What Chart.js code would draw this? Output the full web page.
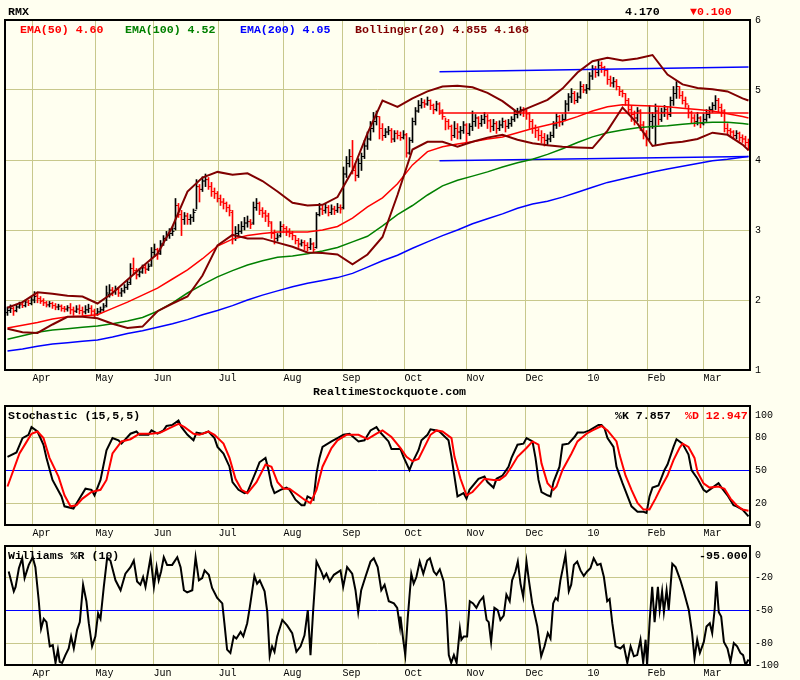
<!DOCTYPE html>
<html>
<head>
<meta charset="utf-8">
<script src="https://cdn.jsdelivr.net/npm/chart.js@4.4.1/dist/chart.umd.min.js"></script>
<style>
body { margin:0; background:#fffff0; width:800px; height:680px; position:relative; overflow:hidden; font-family:"Liberation Mono", monospace; }
.box { position:absolute; left:0; width:800px; }
.lbl { position:absolute; font-weight:bold; font-size:11.6px; line-height:12px; white-space:pre; }
</style>
</head>
<body>
<div class="box" style="top:0;height:400px"><canvas id="priceChart"></canvas></div>
<div class="box" style="top:400px;height:140px"><canvas id="stochChart"></canvas></div>
<div class="box" style="top:540px;height:140px"><canvas id="willChart"></canvas></div>

<div class="lbl" style="left:8px;top:6px">RMX</div>
<div class="lbl" style="left:625px;top:6px">4.170</div>
<div class="lbl" style="left:690px;top:6px;color:#ff0000">▼0.100</div>
<div class="lbl" style="left:20px;top:24px;color:#ff0000">EMA(50) 4.60</div>
<div class="lbl" style="left:125px;top:24px;color:#008000">EMA(100) 4.52</div>
<div class="lbl" style="left:240px;top:24px;color:#0000ff">EMA(200) 4.05</div>
<div class="lbl" style="left:355px;top:24px;color:#800000">Bollinger(20) 4.855 4.168</div>
<div class="lbl" style="left:313px;top:386px">RealtimeStockquote.com</div>
<div class="lbl" style="left:8px;top:410px">Stochastic (15,5,5)</div>
<div class="lbl" style="left:615px;top:410px">%K 7.857</div>
<div class="lbl" style="left:685px;top:410px;color:#ff0000">%D 12.947</div>
<div class="lbl" style="left:8px;top:550px">Williams %R (10)</div>
<div class="lbl" style="left:699px;top:550px">-95.000</div>

<script>
'use strict';

// month grid lines, as trading-day positions
let monthDays = [8.3, 29.3, 48.7, 70.3, 92, 111.7, 132.3, 153, 172.7, 193.3, 213.3, 232];
let monthLabels = ['Apr','May','Jun','Jul','Aug','Sep','Oct','Nov','Dec','10','Feb','Mar'];

// daily price bars
let openArr = [1.82,1.85,1.88,1.85,1.90,1.94,1.92,1.97,1.95,2.00,
 2.06,2.02,1.99,1.96,1.93,1.95,1.92,1.90,1.91,1.88,1.87,
 1.89,1.86,1.84,1.87,1.85,1.83,1.86,1.88,1.84,1.80,1.83,1.86,
 1.92,2.08,2.14,2.12,2.15,2.10,2.13,2.18,
 2.25,2.45,2.42,2.36,2.40,2.46,2.44,
 2.50,2.68,2.72,2.66,2.80,2.88,2.92,2.95,
 3.02,3.35,3.22,3.15,
 3.20,3.15,3.18,
 3.28,3.62,3.58,3.70,
 3.72,3.62,3.55,
 3.52,3.45,3.40,3.38,3.32,
 3.25,2.92,2.95,
 2.98,3.05,3.10,3.12,
 3.10,3.32,
 3.38,3.28,3.24,3.20,
 3.10,2.95,2.88,
 2.92,3.05,
 3.02,2.98,2.95,
 2.92,2.85,2.80,2.82,
 2.78,2.75,2.80,
 2.75,
 3.22,3.30,3.28,3.32,3.25,3.30,3.28,3.32,
 3.32,3.80,3.95,
 4.05,3.85,
 3.78,3.95,
 4.05,4.20,
 4.30,4.45,4.55,
 4.62,4.45,4.35,4.40,
 4.42,4.30,4.38,4.35,4.32,
 4.36,4.10,
 4.28,4.55,
 4.70,4.78,4.82,4.80,
 4.85,4.78,4.72,4.80,4.70,
 4.62,4.55,
 4.48,4.35,4.45,
 4.40,4.42,4.50,4.38,
 4.48,4.55,4.60,4.52,4.58,4.62,
 4.56,4.48,4.52,4.45,4.50,4.55,4.48,4.52,
 4.58,4.65,4.68,4.72,4.70,
 4.66,4.55,4.45,
 4.42,4.35,4.32,4.28,4.30,
 4.35,4.50,4.62,4.55,
 4.58,4.80,4.90,4.95,4.85,
 4.90,5.05,5.00,
 5.02,5.20,5.30,5.25,5.35,5.32,
 5.28,5.15,5.10,5.12,
 5.05,4.98,
 4.95,4.85,
 4.72,4.65,4.60,
 4.70,4.50,4.38,
 4.30,4.55,
 4.62,4.70,
 4.58,4.68,4.72,
 4.65,4.85,4.95,
 5.05,4.92,4.85,
 4.80,4.68,
 4.60,4.55,4.60,4.52,4.58,
 4.65,4.72,4.78,
 4.85,4.75,
 4.70,4.45,
 4.42,4.40,4.35,4.38,4.32,4.30,
 4.25];
let highArr = [1.90,1.93,1.90,1.94,1.97,1.97,2.00,2.00,2.05,2.12,
 2.10,2.05,2.02,1.98,1.98,1.97,1.95,1.94,1.93,1.91,1.92,
 1.95,1.90,1.92,1.93,1.90,1.92,1.94,1.92,1.87,1.88,1.90,1.95,
 2.20,2.22,2.18,2.20,2.18,2.17,2.22,2.28,
 2.52,2.60,2.45,2.45,2.50,2.50,2.52,
 2.75,2.80,2.74,2.85,2.92,2.98,3.02,3.05,
 3.45,3.38,3.28,3.25,
 3.24,3.22,3.30,
 3.72,3.65,3.76,3.80,
 3.75,3.68,3.60,
 3.55,3.50,3.45,3.40,3.36,
 3.28,3.05,3.08,
 3.12,3.18,3.20,3.15,
 3.40,3.45,
 3.40,3.32,3.28,3.24,
 3.12,3.00,2.95,
 3.12,3.08,
 3.05,3.02,2.98,
 2.92,2.88,2.86,2.85,
 2.82,2.88,2.82,
 3.25,
 3.38,3.35,3.38,3.35,3.36,3.34,3.38,3.36,
 3.90,4.05,4.15,
 4.28,3.95,
 4.02,4.10,
 4.28,4.40,
 4.55,4.68,4.70,
 4.62,4.52,4.45,4.48,
 4.45,4.42,4.42,4.40,4.42,
 4.38,4.32,
 4.60,4.75,
 4.85,4.88,4.86,4.90,
 4.86,4.80,4.84,4.82,4.72,
 4.60,4.58,
 4.50,4.55,4.52,
 4.48,4.55,4.52,4.52,
 4.70,4.65,4.62,4.64,4.68,4.65,
 4.58,4.58,4.55,4.56,4.60,4.57,4.58,4.62,
 4.70,4.74,4.76,4.75,4.72,
 4.68,4.58,4.50,
 4.45,4.42,4.38,4.36,4.40,
 4.55,4.66,4.64,4.65,
 4.85,4.95,5.02,4.98,4.96,
 5.12,5.08,5.08,
 5.25,5.35,5.34,5.42,5.40,5.34,
 5.30,5.20,5.18,5.15,
 5.05,5.00,
 4.95,4.88,
 4.78,4.70,4.75,
 4.72,4.55,4.42,
 4.78,4.68,
 4.80,4.75,
 4.74,4.78,4.75,
 4.90,5.05,5.12,
 5.05,4.98,4.90,
 4.78,4.70,
 4.65,4.68,4.62,4.66,4.72,
 4.76,4.82,4.92,
 4.88,4.80,
 4.72,4.52,
 4.45,4.42,4.42,4.40,4.36,4.34,
 4.30];
let lowArr = [1.78,1.82,1.78,1.83,1.88,1.89,1.90,1.92,1.93,1.96,
 1.96,1.95,1.92,1.90,1.90,1.88,1.86,1.86,1.84,1.83,1.84,
 1.80,1.78,1.82,1.80,1.78,1.80,1.82,1.79,1.76,1.78,1.81,1.84,
 1.90,2.04,2.06,2.08,2.05,2.05,2.10,2.15,
 2.22,2.36,2.30,2.33,2.38,2.38,2.42,
 2.48,2.62,2.58,2.65,2.78,2.85,2.88,2.92,
 3.00,3.18,2.92,3.08,
 3.08,3.08,3.12,
 3.30,3.40,3.55,3.62,
 3.58,3.48,3.45,
 3.40,3.35,3.30,3.26,3.20,
 2.80,2.85,2.90,
 2.95,3.00,3.04,3.02,
 3.08,3.28,
 3.22,3.18,3.12,3.05,
 2.88,2.80,2.84,
 2.90,2.96,
 2.92,2.90,2.86,
 2.80,2.75,2.77,2.72,
 2.70,2.72,2.68,
 2.74,
 3.20,3.22,3.24,3.20,3.22,3.22,3.25,3.24,
 3.30,3.75,3.90,
 3.80,3.70,
 3.75,3.85,
 4.02,4.15,
 4.28,4.40,4.50,
 4.30,4.28,4.32,4.36,
 4.25,4.26,4.30,4.28,4.30,
 4.04,4.08,
 4.25,4.50,
 4.68,4.74,4.75,4.78,
 4.72,4.66,4.70,4.65,4.58,
 4.43,4.44,
 4.28,4.32,4.30,
 4.30,4.38,4.25,4.35,
 4.42,4.48,4.45,4.48,4.52,4.45,
 4.40,4.42,4.38,4.42,4.46,4.40,4.45,4.48,
 4.55,4.60,4.64,4.62,4.58,
 4.45,4.38,4.32,
 4.28,4.24,4.20,4.22,4.26,
 4.32,4.45,4.48,4.50,
 4.56,4.70,4.82,4.80,4.82,
 4.88,4.96,4.95,
 5.00,5.15,5.18,5.20,5.25,5.20,
 5.08,5.05,5.04,5.00,
 4.92,4.90,
 4.78,4.66,
 4.55,4.50,4.55,
 4.42,4.30,4.20,
 4.28,4.45,
 4.22,4.50,
 4.55,4.62,4.58,
 4.62,4.78,4.88,
 4.88,4.80,4.75,
 4.60,4.52,
 4.48,4.50,4.46,4.50,4.55,
 4.60,4.68,4.72,
 4.68,4.62,
 4.40,4.36,
 4.34,4.30,4.30,4.27,4.25,4.20,
 4.14];
let closeArr = [1.85,1.88,1.84,1.90,1.93,1.92,1.97,1.95,2.00,2.05,
 2.02,1.98,1.96,1.93,1.95,1.92,1.90,1.91,1.88,1.87,1.89,
 1.86,1.84,1.87,1.85,1.83,1.86,1.88,1.84,1.80,1.83,1.86,1.90,
 2.10,2.14,2.12,2.15,2.10,2.13,2.18,2.22,
 2.45,2.42,2.36,2.40,2.46,2.44,2.48,
 2.68,2.72,2.66,2.80,2.88,2.92,2.95,2.98,
 3.35,3.22,3.15,3.20,
 3.15,3.18,3.25,
 3.62,3.58,3.70,3.72,
 3.62,3.55,3.52,
 3.45,3.40,3.38,3.32,3.28,
 2.92,2.95,2.98,
 3.05,3.10,3.12,3.08,
 3.32,3.38,
 3.28,3.24,3.20,3.12,
 2.95,2.88,2.90,
 3.05,3.02,
 2.98,2.95,2.92,
 2.85,2.80,2.82,2.78,
 2.75,2.80,2.72,
 3.22,
 3.30,3.28,3.32,3.25,3.30,3.28,3.32,3.30,
 3.80,3.95,4.05,
 3.85,3.78,
 3.95,4.05,
 4.20,4.30,
 4.45,4.55,4.62,
 4.45,4.35,4.40,4.42,
 4.30,4.38,4.35,4.32,4.36,
 4.10,4.28,
 4.55,4.70,
 4.78,4.82,4.80,4.85,
 4.78,4.72,4.80,4.70,4.62,
 4.55,4.48,
 4.35,4.45,4.40,
 4.42,4.50,4.38,4.48,
 4.55,4.60,4.52,4.58,4.62,4.56,
 4.48,4.52,4.45,4.50,4.55,4.48,4.52,4.58,
 4.65,4.68,4.72,4.70,4.66,
 4.55,4.45,4.42,
 4.35,4.32,4.28,4.30,4.35,
 4.50,4.62,4.55,4.58,
 4.80,4.90,4.95,4.85,4.90,
 5.05,5.00,5.02,
 5.20,5.30,5.25,5.35,5.32,5.28,
 5.15,5.10,5.12,5.05,
 4.98,4.95,
 4.85,4.72,
 4.65,4.60,4.70,
 4.50,4.38,4.30,
 4.55,4.62,
 4.70,4.58,
 4.68,4.72,4.65,
 4.85,4.95,5.05,
 4.92,4.85,4.80,
 4.68,4.60,
 4.55,4.60,4.52,4.58,4.65,
 4.72,4.78,4.85,
 4.75,4.70,
 4.45,4.42,
 4.40,4.35,4.38,4.32,4.30,4.25,
 4.17];

// overlay lines, read every 5 days
let lineDays = [0,5,10,15,20,25,30,35,40,45,50,55,60,65,70,75,80,85,90,95,100,105,110,115,120,125,
 130,135,140,145,150,155,160,165,170,175,180,185,190,195,200,205,210,215,220,225,230,235,240,245,247];
let ema50 = [1.60,1.64,1.68,1.73,1.76,1.77,1.79,1.88,1.97,2.07,2.17,2.30,2.43,2.59,2.77,2.87,2.92,2.95,2.97,2.97,
 2.97,3.00,3.05,3.17,3.33,3.46,3.66,3.93,4.12,4.19,4.23,4.26,4.30,4.33,4.39,4.45,4.50,4.55,4.62,4.70,
 4.76,4.79,4.78,4.77,4.76,4.74,4.72,4.70,4.66,4.62,4.60];
let ema100 = [1.44,1.49,1.54,1.57,1.59,1.61,1.63,1.66,1.70,1.75,1.84,1.96,2.10,2.22,2.33,2.42,2.50,2.56,2.61,2.63,
 2.66,2.70,2.75,2.83,2.91,3.06,3.22,3.35,3.50,3.63,3.71,3.77,3.83,3.90,3.96,4.01,4.08,4.16,4.25,4.33,
 4.39,4.43,4.46,4.48,4.49,4.51,4.53,4.54,4.54,4.52,4.51];
let ema200 = [1.27,1.30,1.34,1.37,1.39,1.41,1.43,1.47,1.52,1.56,1.61,1.66,1.72,1.79,1.85,1.92,2.00,2.07,2.13,2.19,
 2.24,2.28,2.32,2.38,2.47,2.56,2.64,2.74,2.83,2.92,3.00,3.09,3.16,3.23,3.31,3.37,3.41,3.47,3.54,3.61,
 3.68,3.73,3.78,3.83,3.87,3.91,3.95,3.99,4.01,4.04,4.05];
let bbUpper = [1.89,1.97,2.11,2.09,2.06,2.05,1.95,2.10,2.29,2.48,2.66,3.05,3.55,3.75,3.83,3.79,3.81,3.70,3.55,3.39,
 3.35,3.36,3.47,3.85,4.38,4.85,4.76,4.88,4.98,5.05,5.06,5.04,4.96,4.84,4.68,4.77,4.86,5.02,5.25,5.41,
 5.46,5.42,5.45,5.50,5.22,5.08,5.03,5.01,4.98,4.88,4.85];
let bbLower = [1.59,1.54,1.53,1.65,1.76,1.76,1.74,1.66,1.60,1.62,1.84,1.95,2.05,2.35,2.78,2.93,2.88,2.88,2.82,2.76,
 2.68,2.67,2.65,2.51,2.65,2.90,3.50,4.15,4.26,4.26,4.19,4.26,4.32,4.36,4.29,4.24,4.21,4.19,4.18,4.17,
 4.42,4.75,4.52,4.20,4.24,4.26,4.30,4.39,4.36,4.22,4.14];

// trend lines drawn on the chart
let trendDays = [144, 247];
let trendUpper = [5.26, 5.33];
let trendLower = [3.99, 4.05];
let levelLine = [4.67, 4.67];

// stochastic %K / %D
let kDays = [0,3,5,7,8,10,12,13,15,18,19,22,24,26,28,29,31,33,35,37,38,41,43,44,47,48,50,52,53,55,
 57,58,60,62,63,65,67,69,70,72,74,75,77,79,80,83,84,86,87,88,89,91,93,94,96,98,99,100,102,103,
 104,105,108,110,112,114,117,119,121,123,124,127,128,131,132,134,135,137,138,140,141,143,144,147,148,149,150,152,153,154,
 157,159,160,162,163,165,167,168,170,172,173,175,176,177,178,180,181,182,184,185,187,189,190,192,194,197,198,199,200,202,
 203,205,207,208,210,212,213,214,215,217,219,220,222,223,225,227,228,230,232,233,235,237,238,240,242,243,245,247];
let kVals = [62,66,79,82,89,85,73,61,41,26,17,15,24,33,32,27,41,68,79,77,74,83,85,82,82,86,83,86,90,91,
 95,89,82,77,84,83,85,79,71,65,53,39,32,29,30,50,57,61,50,36,29,32,34,32,23,18,18,26,23,47,
 61,71,76,79,82,83,76,77,86,89,85,76,69,69,62,50,57,68,77,82,87,86,85,77,62,44,26,29,24,32,
 42,44,39,34,42,45,53,61,73,74,79,76,61,41,30,27,26,39,53,73,74,80,84,84,86,91,91,88,79,71,
 53,38,24,17,12,12,11,26,34,36,50,55,71,78,74,64,50,42,32,30,34,38,34,27,18,17,14,7.857];
let dDays = [0,2,4,6,8,10,12,14,17,19,21,23,25,28,31,33,35,38,41,44,48,51,54,57,59,62,64,67,69,72,
 74,76,78,80,83,86,88,90,92,94,97,99,101,103,105,108,110,113,117,120,123,125,128,131,133,135,137,139,141,143,
 145,148,149,151,153,155,157,159,162,164,166,168,170,173,175,177,178,180,182,183,185,188,190,193,195,198,200,203,204,206,
 208,210,212,214,216,218,220,222,224,225,227,229,230,232,234,237,239,241,243,245,247];
let dVals = [35,50,65,74,83,85,79,61,44,27,17,18,24,30,32,41,65,76,78,83,83,84,88,92,89,83,82,85,82,74,
 61,42,32,29,39,55,53,39,33,33,27,23,20,32,53,70,77,82,82,78,83,86,80,70,62,58,60,71,82,86,
 85,79,62,42,27,30,36,42,41,41,45,53,62,70,76,73,56,38,32,35,50,65,76,83,86,90,86,76,64,45,
 32,20,14,14,24,35,45,59,70,74,71,61,48,38,34,35,33,24,18,14,12.947];

// Williams %R
let wDays = [0.4,2.1,2.7,3.8,4.9,5.7,7.1,8.4,9.3,10.4,11.2,12.1,13,14.1,15.1,16,16.8,17.4,18.2,19.3,
 20.4,21.2,22.1,23.2,24.1,25.2,26.3,27.1,28.2,29.3,30.2,31,32.1,33.2,34.3,36,37.7,39.3,41,42.1,
 43.2,44.3,45.2,46,47.7,48.8,49.7,50.4,51.2,52.1,53.2,54.9,56.6,57.7,58.8,59.9,61.6,62.7,63.8,64.9,
 65.7,67.1,68.2,69.9,71.6,72.3,73.2,74.3,75.4,76.3,77.7,78.6,79.9,80.8,82.3,83.2,84.1,85.7,86.6,87.4,
 88.2,89,89.9,91.6,93.2,94.9,96.3,97.7,99,100.1,101,101.9,103,104.6,105.4,106.3,107.4,108.8,111,111.9,
 113.2,114.9,116,116.9,117.9,119.3,121,122.1,123.4,124.6,125.7,127.1,128.8,129.9,130.8,
 131,131.9,132.6,133.4,134.6,135.4,136.3,137.4,138.6,139.9,140.8,142.1,143,144.1,145.4,146.3,147.1,147.9,148.8,149.7,
 150.8,151.3,152.1,153.2,154.1,155.2,156.3,157.4,158.6,159.7,160.4,161.2,162.3,163.4,164.3,165.4,166.3,167.4,168.2,169.3,
 170.1,171,171.9,173,173.8,174.9,176.6,177.9,179,180.1,181,181.9,182.7,183.4,184.3,185.2,186,187.1,187.9,188.8,
 189.9,191,192.1,193.2,194.3,195.4,196.6,197.7,198.8,199.9,200.7,201.6,202.7,204.3,205.4,206.6,207.7,208.8,209.9,211,
 211.9,212.7,213.2,214.1,214.9,215.7,216.8,217.4,218.2,218.8,219.7,220.4,221.6,222.7,224.3,225.4,227.1,228.2,229,229.9,
 230.8,232.1,233,234.1,234.9,235.7,236.3,237.1,237.9,238.8,240,241,242.1,243.2,244.3,245.2,246,247];
let wVals = [-15,-33,-29,-12,-3,-21,-9,-2,-11,-41,-67,-58,-61,-83,-82,-98,-86,-97,-98,-91,
 -85,-74,-85,-68,-61,-27,-42,-62,-83,-74,-53,-58,-29,-3,-5,-23,-32,-17,-11,-5,
 -24,-27,-20,-29,-2,-29,-11,-23,-15,-2,-9,-9,-2,-11,-32,-34,-32,-2,-23,-21,
 -14,-18,-30,-39,-44,-62,-86,-89,-74,-76,-70,-74,-62,-47,-19,-26,-23,-33,-52,-92,
 -83,-88,-74,-59,-64,-71,-88,-83,-73,-50,-91,-50,-6,-15,-21,-17,-24,-18,-14,-29,
 -11,-17,-32,-52,-32,-20,-6,-3,-11,-32,-27,-42,-44,-48,-65,
 -56,-77,-91,-58,-17,-26,-20,-6,-17,-5,-3,-15,-18,-13,-24,-50,-91,-98,-91,-98,
 -67,-77,-74,-74,-42,-44,-48,-42,-38,-59,-61,-79,-48,-50,-59,-55,-36,-42,-23,-15,
 -6,-26,-38,-6,-23,-44,-65,-92,-83,-71,-76,-44,-39,-41,-23,-11,0,-33,-27,-9,
 -6,-14,-19,-15,-12,-3,-9,-8,-20,-42,-40,-62,-83,-85,-82,-98,-83,-92,-91,-77,
 -98,-77,-100,-58,-29,-61,-29,-50,-33,-52,-32,-50,-8,-11,-23,-33,-50,-71,-94,-77,
 -89,-79,-65,-62,-71,-50,-24,-52,-56,-79,-85,-97,-80,-83,-89,-91,-100,-95];

let gridTan = '#c8c88c';
let upColor = '#000000';
let downColor = '#ff0000';
let xMin = -0.83;
let xMax = 247.5;
let monoFont = { family: 'Liberation Mono', size: 10 };

let nDays = Math.min(openArr.length, highArr.length, lowArr.length, closeArr.length);
let barColors = [];
for (let i = 0; i < nDays; i++) {
    barColors.push(i > 0 && closeArr[i] < closeArr[i - 1] ? downColor : upColor);
}

function toPoints(days, vals) {
    let pts = [];
    for (let i = 0; i < Math.min(days.length, vals.length); i++) {
        pts.push({ x: days[i], y: vals[i] });
    }
    return pts;
}

function lineSet(days, vals, color, width, order) {
    return {
        type: 'line', data: toPoints(days, vals), borderColor: color, borderWidth: width,
        pointRadius: 0, tension: 0, fill: false, order: order
    };
}

// black box round each plot area
let framePlugin = {
    id: 'frame',
    afterDraw(chart) {
        let a = chart.chartArea;
        let ctx = chart.ctx;
        ctx.save();
        ctx.strokeStyle = '#000';
        ctx.lineWidth = 2;
        ctx.strokeRect(a.left, a.top, a.right - a.left, a.bottom - a.top);
        ctx.restore();
    }
};

function panelOptions(yMin, yMax, yTicks, yGridColor, xHeight, topPad, labelPad) {
    return {
        responsive: true,
        maintainAspectRatio: false,
        animation: false,
        events: [],
        devicePixelRatio: 1,
        layout: { padding: { left: 5, top: topPad, right: 0, bottom: 0 } },
        plugins: { legend: { display: false }, tooltip: { enabled: false } },
        scales: {
            x: {
                type: 'linear', min: xMin, max: xMax, offset: false,
                grid: { color: gridTan, offset: false, drawTicks: false, lineWidth: 1 },
                border: { display: false },
                afterBuildTicks: function (s) { s.ticks = monthDays.map(v => ({ value: v })); },
                afterFit: function (s) { s.height = xHeight; s.paddingLeft = 0; s.paddingRight = 0; },
                ticks: {
                    autoSkip: false, maxRotation: 0, minRotation: 0, align: 'start', padding: labelPad,
                    color: '#000', font: monoFont,
                    callback: (v, i) => monthLabels[i]
                }
            },
            y: {
                position: 'right', min: yMin, max: yMax,
                grid: { color: yGridColor, drawTicks: false, lineWidth: 1 },
                border: { display: false },
                afterBuildTicks: function (s) { s.ticks = yTicks.map(v => ({ value: v })); },
                afterFit: function (s) { s.width = 50; s.paddingTop = 0; s.paddingBottom = 0; },
                ticks: { autoSkip: false, padding: 5, color: '#000', font: monoFont }
            }
        }
    };
}

// price panel
let hlData = [], openData = [], closeData = [];
for (let i = 0; i < nDays; i++) {
    hlData.push({ x: i, y: [lowArr[i], highArr[i]] });
    openData.push({ x: i - 0.33, y: openArr[i] });
    closeData.push({ x: i + 0.33, y: closeArr[i] });
}

new Chart(document.getElementById('priceChart'), {
    type: 'bar',
    data: {
        datasets: [
            lineSet(lineDays, bbUpper, '#800000', 2, 1),
            lineSet(lineDays, bbLower, '#800000', 2, 1),
            lineSet(lineDays, ema50, '#ff0000', 1.5, 2),
            lineSet(lineDays, ema100, '#008000', 1.5, 3),
            lineSet(lineDays, ema200, '#0000ff', 1.5, 4),
            lineSet(trendDays, trendUpper, '#0000ff', 1.5, 5),
            lineSet(trendDays, trendLower, '#0000ff', 1.5, 5),
            lineSet(trendDays, levelLine, '#ff0000', 1.5, 5),
            {
                type: 'line', data: openData, showLine: false, pointStyle: 'line',
                pointRadius: 1, pointBorderWidth: 1, pointBorderColor: barColors, order: 8
            },
            {
                type: 'line', data: closeData, showLine: false, pointStyle: 'line',
                pointRadius: 1, pointBorderWidth: 1, pointBorderColor: barColors, order: 8
            },
            {
                type: 'bar', data: hlData, backgroundColor: barColors, barThickness: 1,
                grouped: false, borderWidth: 0, order: 10
            }
        ]
    },
    options: panelOptions(1, 6, [1, 2, 3, 4, 5, 6], gridTan, 30, 20, 2),
    plugins: [framePlugin]
});

// stochastic panel
new Chart(document.getElementById('stochChart'), {
    type: 'line',
    data: {
        datasets: [
            lineSet(dDays, dVals, '#ff0000', 2, 1),
            lineSet(kDays, kVals, '#000000', 2, 2)
        ]
    },
    options: panelOptions(0, 108.2, [0, 20, 50, 80, 100], function (c) {
        let v = c.tick && c.tick.value;
        if (v === 50) return '#0000ff';
        if (v === 20 || v === 80) return gridTan;
        return 'rgba(0,0,0,0)';
    }, 15, 6, 2),
    plugins: [framePlugin]
});

// Williams %R panel
new Chart(document.getElementById('willChart'), {
    type: 'line',
    data: {
        datasets: [
            lineSet(wDays, wVals, '#000000', 2, 1)
        ]
    },
    options: panelOptions(-100, 8.2, [-100, -80, -50, -20, 0], function (c) {
        let v = c.tick && c.tick.value;
        if (v === -50) return '#0000ff';
        if (v === -20 || v === -80) return gridTan;
        return 'rgba(0,0,0,0)';
    }, 15, 6, 2),
    plugins: [framePlugin]
});
</script>
</body>
</html>
